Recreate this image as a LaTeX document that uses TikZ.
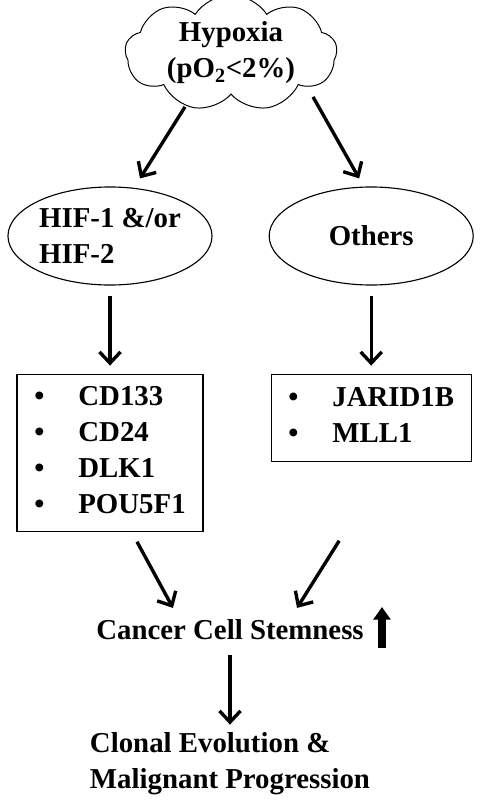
\documentclass[tikz,border=0pt]{standalone}
\usepackage{fontspec}
\setmainfont{Liberation Serif}
\usetikzlibrary{shapes,arrows.meta,positioning}

\begin{document}
\begin{tikzpicture}[x=0.025cm,y=-0.025cm,node distance=1.4cm,
  font=\fontsize{20.5}{25.6}\selectfont\bfseries,
  flow/.style={line width=2.4pt,-{Straight Barb[length=8pt,width=15pt,line width=2.4pt]}},
  oval/.style={draw,ellipse,line width=0.8pt,minimum width=5.1cm,minimum height=2.45cm,align=left,inner sep=0pt},
  genebox/.style={draw,rectangle,line width=0.8pt,inner sep=0pt}]
\useasboundingbox (0,0) rectangle (481,802);
% Hypoxia and its two branches
\node[draw,cloud,cloud puffs=9,cloud puff arc=115,cloud ignores aspect,minimum width=5.3cm,minimum height=2.6cm,line width=0.7pt,align=center,inner sep=0pt] (hyp) at (231,53) {Hypoxia\\(pO\textsubscript{2}<2\%)};
\node[oval] (hif) at (110,236) {HIF-1 \&/or\\HIF-2};
\node[oval,right=1.4cm of hif] (oth) {Others};

\draw[flow] ([xshift=-1.15cm,yshift=-0.3cm]hyp.south) -- ([xshift=0.75cm,yshift=0.2cm]hif.north);
\draw[flow] ([xshift=2.05cm,yshift=-0.05cm]hyp.south) -- ([xshift=-0.3cm,yshift=0.2cm]oth.north);

% target genes
\node[genebox,minimum width=4.65cm,minimum height=3.925cm,below=2.2cm of hif] (lbox) {\begin{tabular}{@{}l@{\hspace{0.85cm}}l@{}}
\textbullet & CD133\\
\textbullet & CD24\\
\textbullet & DLK1\\
\textbullet & POU5F1
\end{tabular}};
\node[genebox,minimum width=5cm,minimum height=2.175cm,below=2.2cm of oth] (rbox) {\begin{tabular}{@{}l@{\hspace{0.85cm}}l@{}}
\textbullet & JARID1B\\
\textbullet & MLL1
\end{tabular}};

\draw[flow,shorten <=0.25cm,shorten >=0.2cm] (hif) -- (lbox);
\draw[flow,shorten <=0.25cm,shorten >=0.2cm] (oth) -- (rbox);

% outcome
\node[inner sep=0pt,anchor=base] (stem) at (230,639) {Cancer Cell Stemness};
\node[inner sep=0pt,align=left,below=2.325cm of stem] (clon) {Clonal Evolution \&\\Malignant Progression};

\draw[flow] ([xshift=0.675cm,yshift=-0.25cm]lbox.south) -- ([xshift=-1.425cm,yshift=0.27cm]stem.north);
\draw[flow] ([xshift=-0.8cm,yshift=-1.975cm]rbox.south) -- ([xshift=1.675cm,yshift=0.27cm]stem.north);
\draw[line width=5pt,-{Triangle[length=9pt,width=12pt]}] ([xshift=0.45cm,yshift=-0.225cm]stem.base east) -- ++(0,-41);
\draw[flow,shorten <=0.375cm,shorten >=0.2cm] (stem) -- (clon);
\end{tikzpicture}
\end{document}
